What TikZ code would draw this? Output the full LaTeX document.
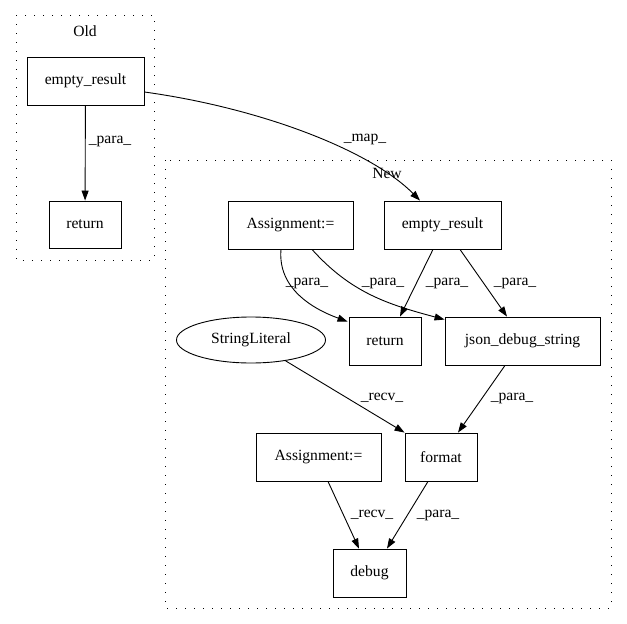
\documentclass[tikz,border=0pt]{standalone}
\usepackage{fontspec}
\setmainfont{Liberation Serif}
\usetikzlibrary{shapes.geometric,arrows.meta}

\begin{document}
\begin{tikzpicture}[x=1pt, y=1pt,
            line width=0.9pt,
            font=\fontsize{15.6}{18}\selectfont,
            every node/.style={inner sep=0pt},
            box/.style={draw, rectangle, minimum height=48pt},
            oval/.style={draw, ellipse, minimum width=149pt, minimum height=46pt},
            cluster/.style={draw, dash pattern=on 1.3pt off 7.7pt},
            flow/.style={-{Triangle[length=10pt,width=7pt]}},
            ]
            \useasboundingbox (0,0) rectangle (627,-624);

            % clusters
            \draw[cluster] (16,-15) rectangle (154,-260);
            \draw[cluster] (165,-160) rectangle (611,-608);
            \node (oldtitle) at (85,-31) {Old};
            \node (newtitle) at (387,-173) {New};

            % old
            \node[box, minimum width=117pt] (olderes) at (85.5,-81) {empty\_result};
            \node[box, minimum width=72pt, minimum height=47pt] (oldret) at (85,-224.5) {return};

            % new
            \node[box, minimum width=125pt] (asgA) at (290.5,-225) {Assignment:=};
            \node[box, minimum width=117pt] (eres) at (442.5,-225) {empty\_result};
            \node[oval] (strlit) at (251,-340) {StringLiteral};
            \node[box, minimum width=72pt] (ret) at (385,-341) {return};
            \node[box, minimum width=155pt] (json) at (522.5,-341) {json\_debug\_string};
            \node[box, minimum width=125pt] (asgB) at (318.5,-457) {Assignment:=};
            \node[box, minimum width=72pt] (fmt) at (441,-457) {format};
            \node[box, minimum width=73pt] (dbg) at (369.5,-573) {debug};

            % edges
            \draw[flow] (olderes) -- (oldret);
            \draw[flow] ([yshift=-11pt]olderes.east)
                .. controls (260,-108) and (370,-150) .. ([xshift=-22.5pt]eres.north);
            \draw[flow] ([xshift=-9.5pt]asgA.south)
                to[out=-95, in=160] ([xshift=-1pt,yshift=-5pt]ret.north west);
            \draw[flow] ([xshift=21.5pt]asgA.south)
                to[out=-48, in=165] ([yshift=-3pt]json.north west);
            \draw[flow] ([xshift=-9.5pt]eres.south) -- ([xshift=15pt]ret.north);
            \draw[flow] ([xshift=17.5pt]eres.south) -- ([xshift=-15.5pt]json.north);
            \draw[flow] (strlit) -- (fmt.north west);
            \draw[flow] ([xshift=-17.5pt]json.south) -- ([xshift=17pt]fmt.north);
            \draw[flow] ([xshift=9.5pt]asgB.south) -- ([xshift=-10.5pt]dbg.north);
            \draw[flow] ([xshift=-13pt]fmt.south) -- ([xshift=17.5pt]dbg.north);

            % edge labels
            \node (lblold) at (110,-141) {\_para\_};
            \node (lblmap) at (365,-139) {\_map\_};
            \node (lblaret) at (307,-283) {\_para\_};
            \node (lblajson) at (383,-283) {\_para\_};
            \node (lbleret) at (447,-283) {\_para\_};
            \node (lblejson) at (515,-283) {\_para\_};
            \node (lblrecvA) at (382,-398) {\_recv\_};
            \node (lblfmt) at (512,-398) {\_para\_};
            \node (lblrecvB) at (372,-515) {\_recv\_};
            \node (lbldbg) at (438,-515) {\_para\_};
        \end{tikzpicture}
\end{document}
